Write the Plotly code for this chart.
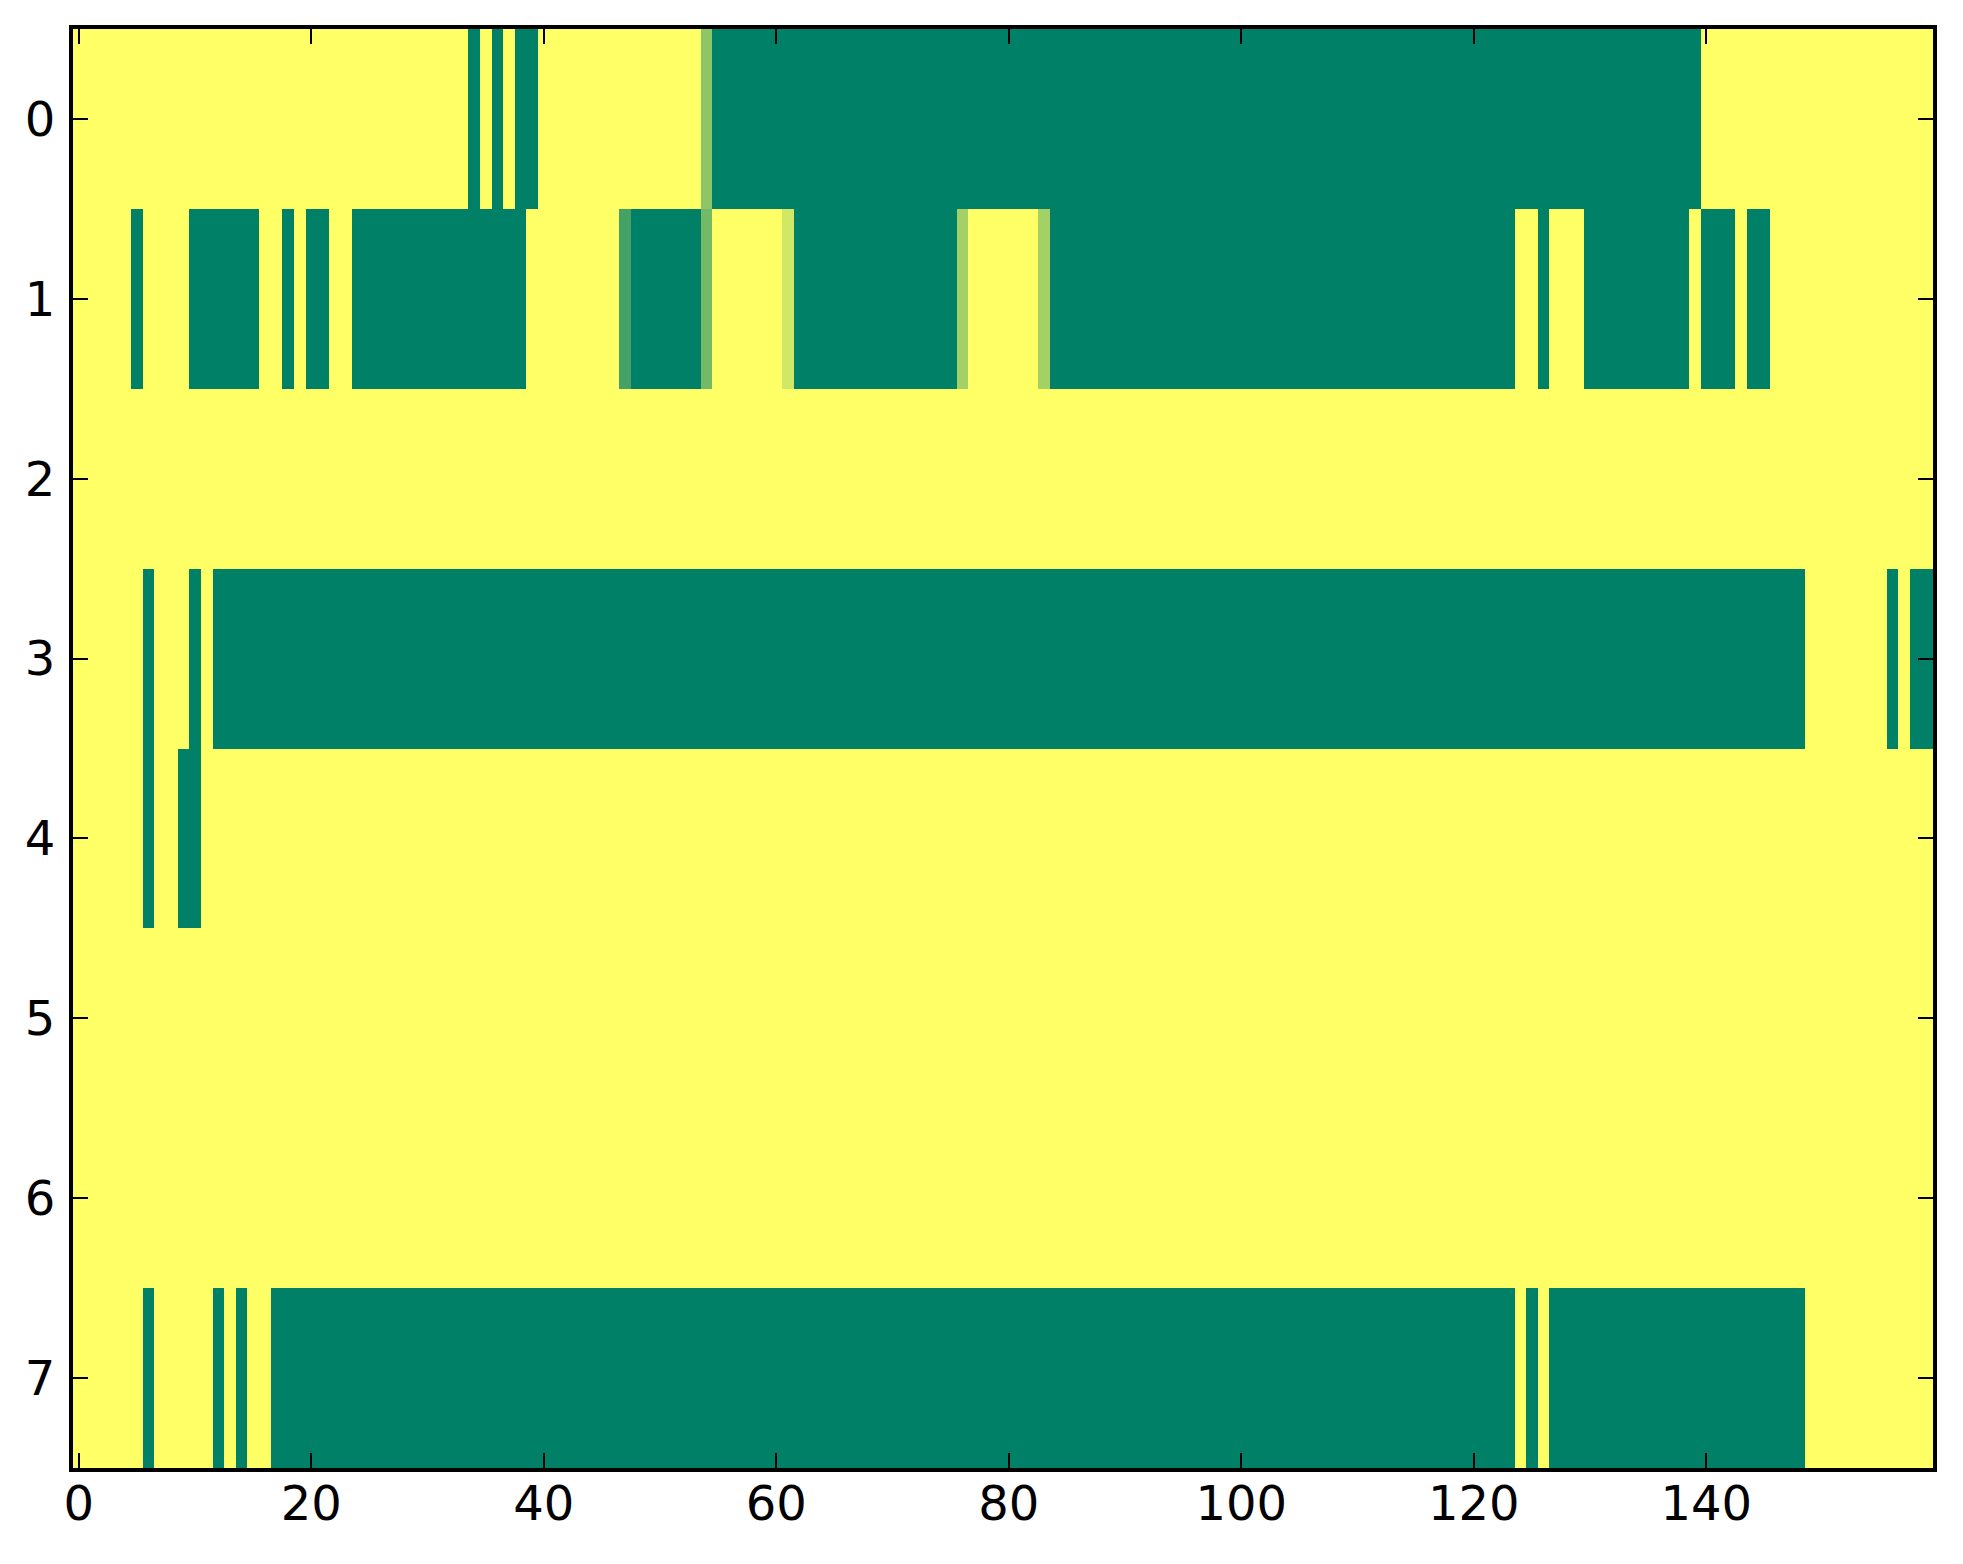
import plotly.graph_objects as go

# Row data as run-length pairs (value, number of consecutive columns)
row0_runs = [(1, 34), (0, 1), (1, 1), (0, 1), (1, 1), (0, 2), (1, 14), (0.55, 1), (0, 85), (1, 20)]
row1_runs = [(1, 5), (0, 1), (1, 4), (0, 6), (1, 2), (0, 1), (1, 1), (0, 2), (1, 2), (0, 15),
             (1, 8), (0.27, 1), (0, 6), (0.45, 1), (1, 6), (0.82, 1), (0, 14), (0.64, 1), (1, 6),
             (0.64, 1), (0, 40), (1, 2), (0, 1), (1, 3), (0, 9), (1, 1), (0, 3), (1, 1), (0, 2), (1, 14)]
row2_runs = [(1, 160)]
row3_runs = [(1, 6), (0, 1), (1, 3), (0, 1), (1, 1), (0, 137), (1, 7), (0, 1), (1, 1), (0, 2)]
row4_runs = [(1, 6), (0, 1), (1, 2), (0, 2), (1, 149)]
row5_runs = [(1, 160)]
row6_runs = [(1, 160)]
row7_runs = [(1, 6), (0, 1), (1, 5), (0, 1), (1, 1), (0, 1), (1, 2), (0, 107), (1, 1), (0, 1),
             (1, 1), (0, 22), (1, 11)]

x_tick_vals = [0, 20, 40, 60, 80, 100, 120, 140]
y_tick_vals = [0, 1, 2, 3, 4, 5, 6, 7]


def decode(runs):
    out = []
    for v, n in runs:
        out.extend([v] * n)
    return out


rows = [row0_runs, row1_runs, row2_runs, row3_runs, row4_runs, row5_runs, row6_runs, row7_runs]
z = [decode(r) for r in rows]
ncols = len(z[0])

summer = [[0.0, "rgb(0,128,102)"], [1.0, "rgb(255,255,102)"]]

fig = go.Figure(go.Heatmap(
    z=z,
    x=list(range(ncols)),
    y=list(range(len(z))),
    colorscale=summer,
    zmin=0, zmax=1,
    showscale=False,
    zsmooth=False,
))

axis_common = dict(
    showline=True, linecolor="black", linewidth=4, mirror="ticks",
    ticks="inside", ticklen=15, tickwidth=1.5, tickcolor="black",
    showgrid=False, zeroline=False,
    tickfont=dict(family="DejaVu Sans", size=48, color="black"),
)

fig.update_xaxes(range=[-0.5, ncols - 0.5], tickmode="array", tickvals=x_tick_vals,
                 ticktext=[str(v) for v in x_tick_vals], ticklabelstandoff=-10, **axis_common)
fig.update_yaxes(range=[7.5, -0.5], tickmode="array", tickvals=y_tick_vals,
                 ticktext=[str(v) for v in y_tick_vals], ticklabelstandoff=4, **axis_common)

# the page body adds an 8px offset; margins compensate for it
fig.update_layout(
    width=1963, height=1564,
    margin=dict(l=65, r=38, t=21, b=104, pad=0),
    paper_bgcolor="white", plot_bgcolor="white",
    font=dict(family="DejaVu Sans", color="black"),
)

fig.write_html("out.html")
